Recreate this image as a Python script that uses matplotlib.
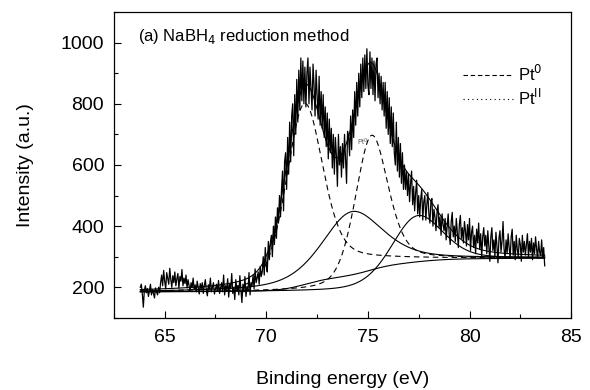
import numpy as np
import matplotlib
matplotlib.use("Agg")
matplotlib.rcParams["font.family"] = ["Liberation Sans", "DejaVu Sans"]
import matplotlib.pyplot as plt
from matplotlib.lines import Line2D
from matplotlib.ticker import MultipleLocator

# raw spectrum, 0.05 eV step from 63.80 eV
e_start, e_step = 63.80, 0.05
counts = [
    200, 210, 178, 135, 190, 205, 182, 196, 170, 188, 210, 175, 192, 180, 165, 198, 185, 175, 200, 182,
    215, 240, 205, 255, 220, 195, 248, 230, 210, 262, 225, 200, 238, 215, 250, 205, 228, 245, 198, 235,
    220, 258, 205, 230, 212, 240, 198, 225, 205, 188, 215, 198, 230, 192, 208, 185, 220, 200, 178, 212,
    195, 215, 180, 205, 225, 190, 172, 208, 196, 230, 185, 200, 215, 178, 195, 210, 188, 222, 180, 198,
    215, 185, 240, 175, 205, 190, 228, 168, 210, 195, 245, 180, 200, 160, 225, 190, 205, 175, 238, 195,
    150, 210, 185, 235, 170, 200, 190, 248, 175, 215, 205, 240, 195, 260, 215, 230, 250, 210, 268, 235,
    250, 300, 240, 330, 270, 250, 350, 290, 345, 370, 300, 400, 340, 430, 360, 460, 410, 500, 430, 520,
    580, 450, 610, 640, 520, 690, 570, 740, 610, 760, 800, 630, 830, 700, 880, 740, 910, 780, 950, 810,
    940, 800, 920, 790, 900, 950, 800, 920, 850, 780, 930, 860, 760, 910, 830, 750, 890, 730, 840, 720,
    830, 690, 790, 660, 770, 620, 750, 640, 720, 590, 700, 570, 690, 630, 530, 700, 600, 660, 560, 670,
    590, 700, 620, 540, 710, 690, 630, 760, 650, 780, 690, 840, 730, 870, 760, 900, 790, 930, 820, 950,
    840, 960, 850, 980, 860, 830, 970, 850, 950, 830, 940, 810, 930, 950, 820, 900, 800, 890, 780, 870,
    760, 870, 720, 840, 700, 820, 670, 790, 660, 770, 640, 600, 740, 580, 690, 560, 670, 540, 640, 520,
    600, 520, 580, 500, 570, 480, 540, 580, 470, 530, 450, 510, 550, 440, 500, 430, 490, 520, 420, 480,
    500, 420, 470, 510, 440, 410, 480, 490, 400, 455, 430, 385, 445, 470, 395, 430, 370, 440, 405, 385,
    425, 355, 400, 440, 375, 340, 415, 445, 365, 400, 350, 425, 380, 330, 405, 435, 360, 395, 345, 415,
    385, 335, 405, 355, 425, 320, 380, 400, 330, 370, 310, 390, 345, 410, 325, 375, 300, 365, 395, 335,
    370, 310, 385, 335, 285, 365, 395, 320, 355, 300, 380, 335, 280, 360, 385, 315, 350, 415, 325, 295,
    355, 310, 375, 330, 295, 365, 390, 305, 350, 290, 370, 325, 300, 360, 340, 285, 370, 315, 350, 305,
    340, 375, 300, 350, 315, 360, 290, 345, 310, 365, 325, 295, 350, 315, 305, 355, 295, 330, 270,
]
energy = e_start + e_step * np.arange(len(counts))

# fitted components: Pt0 4f7/2, Pt0 4f5/2, PtII 4f7/2, PtII 4f5/2
peak_names = ["Pt0_a", "Pt0_b", "PtII_a", "PtII_b"]
peak_center = [71.85, 75.15, 74.10, 77.30]
peak_height = [560, 455, 205, 190]
peak_fwhm = [2.1, 1.9, 3.6, 3.0]
peak_eta = [0.3, 0.35, 0.5, 0.3]
bg_low, bg_high = 185, 295

xf = np.linspace(energy[0], energy[-1], 800)


def pvoigt(x, c, h, w, eta):
    g = np.exp(-4 * np.log(2) * (x - c) ** 2 / w ** 2)
    l = 1.0 / (1 + 4 * (x - c) ** 2 / w ** 2)
    return h * ((1 - eta) * g + eta * l)


def shirley(y):
    cum = np.cumsum(y)
    return bg_low + (bg_high - bg_low) * cum / cum[-1]


comps = [pvoigt(xf, c, h, w, e) for c, h, w, e in
         zip(peak_center, peak_height, peak_fwhm, peak_eta)]
total = np.sum(comps, axis=0)
bg_total = shirley(total)

fig = plt.figure(figsize=(5.9, 3.9), dpi=100)
ax = fig.add_axes([0.193, 0.185, 0.775, 0.784])

ax.plot(energy, counts, color="black", lw=0.9, zorder=3)
for name, comp in zip(peak_names, comps):
    ls = (0, (5, 3.5)) if name.startswith("Pt0") else "-"
    ax.plot(xf, comp + shirley(comp), color="black", lw=0.8, ls=ls, zorder=4)
ax.plot(xf, bg_total, color="black", lw=0.8, zorder=4)
ax.plot(xf, total + bg_total, color="black", lw=0.8, zorder=4)

ax.text(74.75, 675, "Pt$^0$", fontsize=5, color="#555555", ha="center", va="center")

ax.set_xlim(62.5, 85)
ax.set_ylim(100, 1100)
ax.xaxis.set_major_locator(MultipleLocator(5))
ax.xaxis.set_minor_locator(MultipleLocator(2.5))
ax.set_yticks([200, 400, 600, 800, 1000])
ax.yaxis.set_minor_locator(MultipleLocator(100))
ax.tick_params(which="both", direction="in", top=False, right=False, labelsize=14)
ax.tick_params(which="major", length=5, width=0.8)
ax.tick_params(which="minor", length=3, width=0.8)
ax.tick_params(axis="x", which="major", pad=8)
ax.tick_params(axis="y", which="major", pad=7)
for s in ax.spines.values():
    s.set_linewidth(0.9)

ax.set_xlabel("Binding energy (eV)", fontsize=14, labelpad=18)
ax.set_ylabel("Intensity (a.u.)", fontsize=14, labelpad=19)

ax.text(0.052, 0.92, "(a) NaBH$_4$ reduction method", transform=ax.transAxes,
        fontsize=12, ha="left", va="center")

handles = [Line2D([], [], color="black", lw=0.8, ls=(0, (4, 2.5))),
           Line2D([], [], color="black", lw=0.8, ls=(0, (1, 3)))]
ax.legend(handles, ["Pt$^0$", "Pt$^{\\rm II}$"], loc="upper left",
          bbox_to_anchor=(0.73, 0.88), frameon=False, fontsize=12,
          handlelength=3.0, handletextpad=0.3, labelspacing=0.25)

fig.savefig("out.png", dpi=100)
